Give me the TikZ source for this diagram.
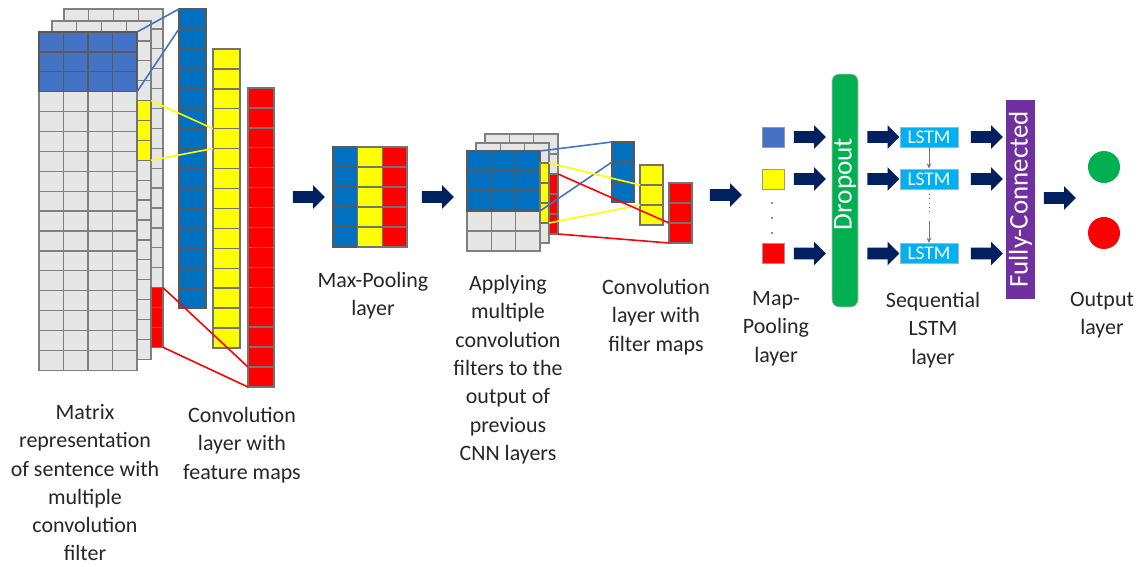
\documentclass[tikz,border=0pt]{standalone}
\usepackage{fontspec}
\setmainfont{Carlito}
\usetikzlibrary{shapes.arrows,arrows.meta}

\definecolor{cellgrey}{HTML}{E7E6E6}
\definecolor{mblue}{HTML}{4472C4}
\definecolor{fblue}{HTML}{0070C0}
\definecolor{fyellow}{HTML}{FFFF00}
\definecolor{fred}{HTML}{FF0000}
\definecolor{navy}{HTML}{002060}
\definecolor{dropgreen}{HTML}{00B050}
\definecolor{lstmblue}{HTML}{00B0F0}
\definecolor{fcpurple}{HTML}{7030A0}
\definecolor{txt}{HTML}{262626}

% grid of cells: x0, y0, columns, rows, cell width, cell height, style
\newcommand\cellgrid[7]{%
  \foreach \gi in {1,...,#3}{%
    \foreach \gj in {1,...,#4}{%
      \draw[#7] ({#1+(\gi-1)*#5},{#2+(\gj-1)*#6}) rectangle ++(#5,#6);}}}

\tikzset{
  greycell/.style={fill=cellgrey, draw=black!50, line width=0.75pt},
  bluecell/.style={fill=mblue, draw=black!65, line width=0.75pt},
  fbcell/.style={fill=fblue, draw=black!65, line width=0.75pt},
  ycell/.style={fill=fyellow, draw=black!55, line width=0.75pt},
  rcell/.style={fill=fred, draw=black!55, line width=0.75pt},
  link/.style={line width=0.9pt},
  flow/.style={single arrow, fill=navy, draw=none,
    inner xsep=0pt, inner ysep=0.11cm, minimum height=0.64cm,
    single arrow head extend=0.12cm, single arrow tip angle=90},
  lbl/.style={align=center, font=\fontsize{12.5}{16.1}\selectfont,
    text=txt, inner sep=0pt, anchor=north},
  sq/.style={draw=black!40, line width=0.5pt, minimum width=0.44cm,
    minimum height=0.4cm, inner sep=0pt},
  lstm/.style={fill=lstmblue, draw=black!30, line width=0.5pt,
    minimum width=1.16cm, minimum height=0.4cm, inner sep=0pt,
    text=white, font=\fontsize{11}{12}\selectfont},
  vline/.style={draw=black!55, line width=0.5pt},
  vtip/.style={-{Stealth[length=3pt,width=2.6pt]}},
}

\begin{document}
\begin{tikzpicture}[x=0.02cm, y=-0.02cm]
\useasboundingbox (0,0) rectangle (1137,567);

% ---- input sentence matrix with stacked filter layers ----
\cellgrid{64}{9}{4}{17}{24.75}{19.9}{greycell}
\cellgrid{52}{21}{4}{17}{24.75}{19.9}{greycell}
\cellgrid{39}{32}{4}{17}{24.5}{19.9}{greycell}
\cellgrid{39}{32}{4}{3}{24.5}{19.9}{bluecell}
\cellgrid{137}{100.6}{1}{3}{14}{19.9}{ycell}
\cellgrid{151}{287.6}{1}{3}{12}{19.9}{rcell}

% ---- feature maps ----
\cellgrid{179}{9}{1}{15}{27}{19.93}{fbcell}
\cellgrid{213}{49}{1}{15}{27}{19.93}{ycell}
\cellgrid{248}{88}{1}{15}{26}{19.93}{rcell}

\coordinate (fA) at (137,32);    \coordinate (fB) at (137,91.7);
\coordinate (cb1) at (179,9);    \coordinate (cb2) at (179,28.9);
\coordinate (ys1) at (151,100.6); \coordinate (ys2) at (151,160.3);
\coordinate (cy1) at (213,128.7); \coordinate (cy2) at (213,148.6);
\coordinate (rs1) at (163,287.6); \coordinate (rs2) at (163,347.3);
\coordinate (cr1) at (248,367);  \coordinate (cr2) at (248,387);

\draw[link, mblue] (fA) -- (cb1);
\draw[link, mblue] (fB) -- (cb2);
\draw[link, fyellow] (ys1) -- (cy1);
\draw[link, fyellow] (ys2) -- (cy2);
\draw[link, fred] (rs1) -- (cr1);
\draw[link, fred] (rs2) -- (cr2);

\node[flow] (p1) at (306,197) {};

% ---- max pooling ----
\cellgrid{333}{147}{1}{5}{24.67}{20}{fbcell}
\cellgrid{357.67}{147}{1}{5}{24.67}{20}{ycell}
\cellgrid{382.33}{147}{1}{5}{24.67}{20}{rcell}

\node[flow] (p2) at (435,197) {};

% ---- second convolution stage ----
\cellgrid{485}{134}{3}{5}{24.33}{20}{greycell}
\cellgrid{476}{143}{3}{5}{24.33}{20}{greycell}
\cellgrid{467}{151}{3}{5}{24.33}{20}{greycell}
\cellgrid{467}{151}{3}{3}{24.33}{20}{fbcell}
\cellgrid{540}{163}{1}{3}{9}{20}{ycell}
\cellgrid{549}{174}{1}{3}{9}{20}{rcell}

\cellgrid{612}{142}{1}{3}{22}{20}{fbcell}
\cellgrid{640}{165}{1}{3}{23}{20}{ycell}
\cellgrid{669}{183}{1}{3}{23}{20}{rcell}

\coordinate (mA) at (540,151);   \coordinate (mB) at (540,211);
\coordinate (mb1) at (612,142);  \coordinate (mb2) at (612,162);
\coordinate (mys1) at (549,163); \coordinate (mys2) at (549,223);
\coordinate (my1) at (640,185);  \coordinate (my2) at (640,205);
\coordinate (mrs1) at (558,174); \coordinate (mrs2) at (558,234);
\coordinate (mr1) at (669,223);  \coordinate (mr2) at (669,243);

\draw[link, mblue] (mA) -- (mb1);
\draw[link, mblue] (mB) -- (mb2);
\draw[link, fyellow] (mys1) -- (my1);
\draw[link, fyellow] (mys2) -- (my2);
\draw[link, fred] (mrs1) -- (mr1);
\draw[link, fred] (mrs2) -- (mr2);

\node[flow] (p3) at (723,195) {};

% ---- pooled values ----
\node[sq, fill=mblue] (s1) at (773,137) {};
\node[sq, fill=fyellow] (s2) at (773,179) {};
\node[sq, fill=fred] (s3) at (773,253.5) {};
\foreach \yy in {203,218,233} \fill[black!60] (772,\yy) circle (0.7pt);

\node[flow] (a1) at (807,137) {};
\node[flow] (a2) at (807,179) {};
\node[flow] (a3) at (807,253.5) {};

% ---- dropout ----
\node[fill=dropgreen, draw=black!25, line width=0.4pt, rounded corners=4pt,
      minimum width=0.52cm, minimum height=4.66cm, inner sep=0pt] (drop) at (845,190.5) {};
\node[rotate=90, text=white, font=\fontsize{15.5}{18}\selectfont, inner sep=0pt] (droptxt) at (845,184) {Dropout};

\node[flow] (b1) at (880.5,137) {};
\node[flow] (b2) at (880.5,179) {};
\node[flow] (b3) at (880.5,253.5) {};

% ---- LSTM chain ----
\node[lstm] (l1) at (929,137) {LSTM};
\node[lstm] (l2) at (929,179) {LSTM};
\node[lstm] (l3) at (929,253.5) {LSTM};
\coordinate (g1) at (929,213);
\coordinate (g2) at (929,221);
\draw[vline, vtip] (l1.south) -- (l2.north);
\draw[vline, dotted] (l2.south) -- (g1);
\draw[vline, vtip] (g2) -- (l3.north);

\node[flow] (c1) at (984,137) {};
\node[flow] (c2) at (984,179) {};
\node[flow] (c3) at (984,253.5) {};

% ---- fully connected + output ----
\node[rotate=90, fill=fcpurple, text=white, font=\fontsize{15.3}{18}\selectfont,
      minimum width=3.98cm, minimum height=0.58cm, inner sep=0pt] (fc) at (1020.5,199.5) {Fully-Connected};

\node[flow] (d1) at (1057,198) {};

\node[circle, fill=dropgreen, minimum size=0.64cm, inner sep=0pt] (og) at (1104,167) {};
\node[circle, fill=fred, minimum size=0.64cm, inner sep=0pt] (orr) at (1104,233) {};

% ---- captions ----
\node[lbl] (t1) at (85,404) {Matrix\\representation\\of sentence with\\multiple\\convolution\\filter};
\node[lbl] (t2) at (242,407) {Convolution\\layer with\\feature maps};
\node[lbl] (t3) at (373,272) {Max-Pooling\\layer};
\node[lbl] (t4) at (508,275) {Applying\\multiple\\convolution\\filters to the\\output of\\previous\\CNN layers};
\node[lbl] (t5) at (656,279) {Convolution\\layer with\\filter maps};
\node[lbl] (t6) at (776,291) {Map-\\Pooling\\layer};
\node[lbl] (t7) at (933,292) {Sequential\\LSTM\\layer};
\node[lbl] (t8) at (1102,292) {Output\\layer};
\end{tikzpicture}
\end{document}
